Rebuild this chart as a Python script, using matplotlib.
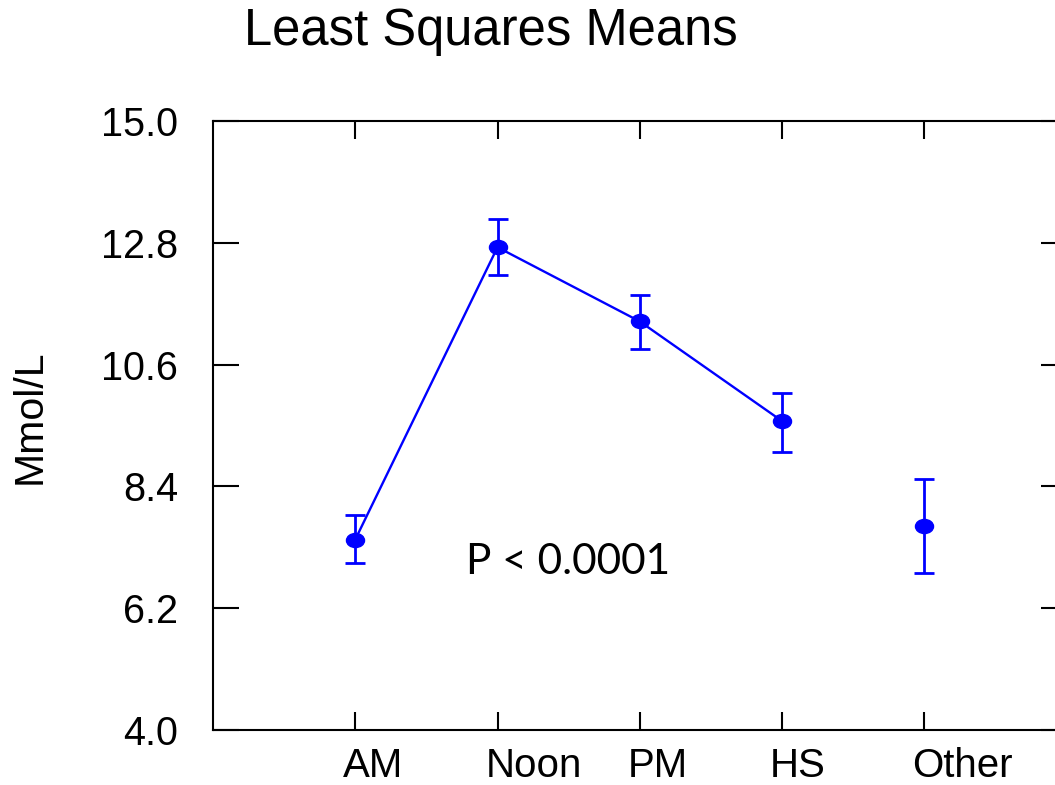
"""
Least squares means plot (Mmol/L by time of day)
"""

import matplotlib
matplotlib.use('Agg')
import matplotlib.pyplot as plt
import matplotlib.transforms as mtransforms
from matplotlib.path import Path
import numpy as np

# Data
categories = ['AM', 'Noon', 'PM', 'HS', 'Other']
means = [7.44, 12.72, 11.38, 9.58, 7.69]
upper = [7.88, 13.23, 11.85, 10.08, 8.53]
lower = [7.01, 12.22, 10.88, 9.03, 6.84]
yticks = [4.0, 6.2, 8.4, 10.6, 12.8, 15.0]
n_joined = 4  # AM..HS are joined by a line, Other stands alone

plt.rcParams['font.family'] = ['Liberation Sans', 'DejaVu Sans']

x = np.arange(1, len(categories) + 1)
means = np.array(means)
yerr = [means - np.array(lower), np.array(upper) - means]

# slightly flattened dot, like the original
circ = Path.unit_circle()
oval = Path(circ.vertices * [1.0, 0.78], circ.codes)

fig = plt.figure(figsize=(10.55, 7.85), dpi=100)
ax = fig.add_axes([213 / 1055, 55 / 785, 853.5 / 1055, 609 / 785])

blue = '#0000ff'
ax.plot(x[:n_joined], means[:n_joined], color=blue, lw=1.7)
ax.errorbar(x, means, yerr=yerr, fmt='none', ecolor=blue,
            elinewidth=2, capsize=7.5, capthick=2)
ax.plot(x, means, ls='none', marker=oval, ms=13, color=blue)

ax.set_xlim(0, 6)
ax.set_ylim(4.0, 15.0)
ax.set_xticks(x)
ax.set_xticklabels(categories)
ax.set_yticks(yticks)
ax.set_yticklabels([f'{v:.1f}' for v in yticks])

ax.tick_params(axis='y', direction='in', length=19, width=1.5, labelsize=28.5,
               pad=25, right=True)
ax.tick_params(axis='x', direction='in', length=13, width=1.5, labelsize=29,
               pad=12, top=True)
for sp in ax.spines.values():
    sp.set_linewidth(1.5)

# x labels start just left of their tick in the original
shift = mtransforms.ScaledTranslation(-12 / 100, 0, fig.dpi_scale_trans)
for lab in ax.get_xticklabels():
    lab.set_ha('left')
    lab.set_transform(lab.get_transform() + shift)

ax.set_ylabel('Mmol/L', fontsize=29.5)
ax.yaxis.set_label_coords(-0.193, 0.514)

ax.text(1.78, 6.82, 'P < 0.0001', fontsize=30.5, family=['Lato', 'DejaVu Sans'],
        ha='left', va='baseline')

fig.text(491 / 1055, (785 - 45) / 785, 'Least Squares Means', fontsize=36.5,
         ha='center', va='baseline')

plt.savefig('out.png', dpi=100, facecolor='white')
plt.close()
